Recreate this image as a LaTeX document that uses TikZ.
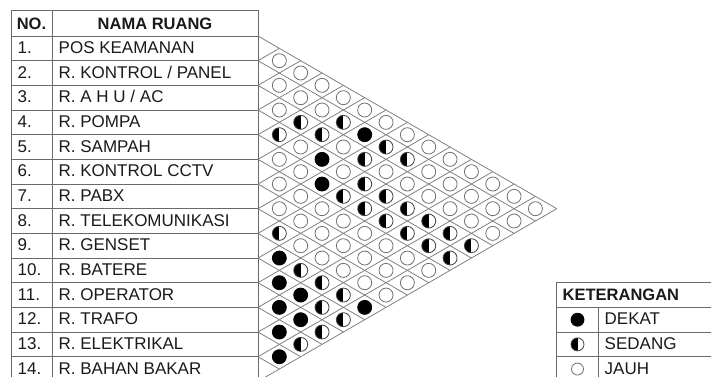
\documentclass[tikz,border=0pt]{standalone}
\usepackage{fontspec}
\setmainfont{Liberation Sans}
\definecolor{txt}{HTML}{1A1A1A}
\definecolor{tline}{HTML}{6A6A6A}
\definecolor{gline}{HTML}{808080}
\definecolor{circ}{HTML}{707070}
\begin{document}
\begin{tikzpicture}[x=1pt,y=-1pt,
  tblline/.style={draw=tline, line width=0.9pt},
  gridline/.style={draw=gline, line width=0.8pt},
  numtxt/.style={anchor=base west, inner sep=0pt, text=txt, font=\fontsize{17}{19}\selectfont},
  headtxt/.style={anchor=base, inner sep=0pt, text=txt, font=\fontsize{16.5}{18}\selectfont\bfseries},
  openc/.style={circle, draw=circ, fill=white, line width=0.8pt, minimum size=14pt, inner sep=0pt},
  fullc/.style={openc, draw=black, fill=black},
  halfc/.style={openc, draw=black!75, path picture={\fill[black] (path picture bounding box.south west) rectangle (path picture bounding box.north);}},
]
\useasboundingbox (0,0) rectangle (711,376);
\clip (0,0) rectangle (711,376);
\pgfmathsetmacro{\RH}{24.67}
% main table
\draw[tblline] (11,10) rectangle (258,381.4);
\draw[tblline] (52,10) -- (52,381.4);
\foreach \k in {0,...,13} {\draw[tblline] (11,{36+\k*\RH}) -- (258,{36+\k*\RH});}
\node[headtxt] (hno) at (31.5,29.2) {NO.};
\node[headtxt] (hname) at (155,29.2) {NAMA RUANG};
\foreach \i/\nm in {1/{POS KEAMANAN},2/{R. KONTROL / PANEL},3/{R. A H U / AC},4/{R. POMPA},5/{R. SAMPAH},6/{R. KONTROL CCTV},7/{R. PABX},8/{R. TELEKOMUNIKASI},9/{R. GENSET},10/{R. BATERE},11/{R. OPERATOR},12/{R. TRAFO},13/{R. ELEKTRIKAL},14/{R. BAHAN BAKAR}} {
  \node[numtxt] (n\i) at (17.5,{36+(\i-0.5)*\RH+5.0}) {\i.};
  \node[numtxt] (r\i) at (58.5,{36+(\i-0.5)*\RH+5.0}) {\nm};
}
% diamond grid
\foreach \k in {0,...,14} {
  \draw[gridline] (258,{36+\k*\RH}) -- ++({(14-\k)*21.34},{(14-\k)*12.335});
  \draw[gridline] (258,{36+\k*\RH}) -- ++({\k*21.34},{-\k*12.335});
}
% relation symbols
\foreach \s/\d/\t in {3/1/openc,
4/2/openc,
5/1/openc,5/3/openc,
6/2/openc,6/4/openc,
7/1/openc,7/3/openc,7/5/openc,
8/2/halfc,8/4/halfc,8/6/openc,
9/1/halfc,9/3/halfc,9/5/fullc,9/7/openc,
10/2/openc,10/4/openc,10/6/halfc,10/8/openc,
11/1/openc,11/3/fullc,11/5/halfc,11/7/halfc,11/9/openc,
12/2/openc,12/4/openc,12/6/openc,12/8/openc,12/10/openc,
13/1/openc,13/3/fullc,13/5/halfc,13/7/openc,13/9/openc,13/11/openc,
14/2/openc,14/4/halfc,14/6/halfc,14/8/openc,14/10/openc,14/12/openc,
15/1/openc,15/3/openc,15/5/halfc,15/7/halfc,15/9/openc,15/11/openc,15/13/openc,
16/2/openc,16/4/openc,16/6/halfc,16/8/halfc,16/10/openc,16/12/openc,
17/1/halfc,17/3/openc,17/5/openc,17/7/halfc,17/9/halfc,17/11/openc,
18/2/openc,18/4/openc,18/6/openc,18/8/halfc,18/10/halfc,
19/1/fullc,19/3/openc,19/5/openc,19/7/openc,19/9/halfc,
20/2/halfc,20/4/openc,20/6/openc,20/8/openc,
21/1/fullc,21/3/halfc,21/5/openc,21/7/openc,
22/2/fullc,22/4/halfc,22/6/openc,
23/1/fullc,23/3/halfc,23/5/fullc,
24/2/fullc,24/4/halfc,
25/1/fullc,25/3/halfc,
26/2/halfc,
27/1/fullc} {
  \node[\t] (c\s-\d) at ({258+\d*21.34},{36+(\s-1)*12.335}) {};
}
% legend
\draw[tblline] (556,{36+10*\RH}) rectangle (740,{36+14*\RH});
\foreach \k in {11,12,13} {\draw[tblline] (556,{36+\k*\RH}) -- (740,{36+\k*\RH});}
\draw[tblline] (598,{36+11*\RH}) -- (598,{36+14*\RH});
\node[numtxt, font=\fontsize{16.5}{18}\selectfont\bfseries] (kt) at (562.5,{36+10.5*\RH+5.0}) {KETERANGAN};
\node[fullc, minimum size=13pt] (lf) at (577.5,{36+11.5*\RH}) {};
\node[halfc, minimum size=13pt] (lh) at (577.5,{36+12.5*\RH}) {};
\node[openc, minimum size=12pt] (lo) at (577.5,{36+13.5*\RH}) {};
\node[numtxt] (tdekat) at (604.5,{36+11.5*\RH+5.0}) {DEKAT};
\node[numtxt] (tsedang) at (604.5,{36+12.5*\RH+5.0}) {SEDANG};
\node[numtxt] (tjauh) at (604.5,{36+13.5*\RH+5.0}) {JAUH};
\end{tikzpicture}
\end{document}
